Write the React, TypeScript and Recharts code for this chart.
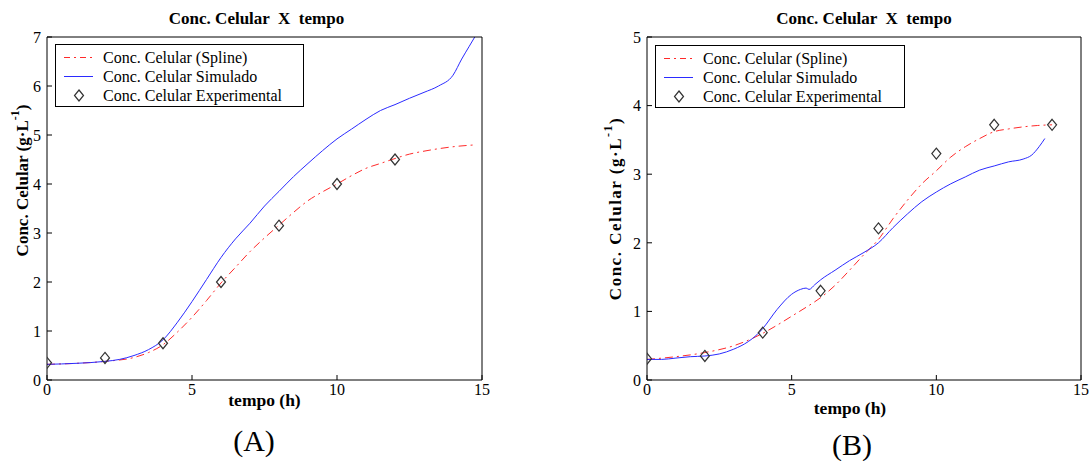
import { ComposedChart, Line, Scatter, XAxis, YAxis } from 'recharts'

const FONT = '"Liberation Serif", "Times New Roman", serif'

// eixos
const timeTicks = [0, 5, 10, 15]
const concTicksA = [0, 1, 2, 3, 4, 5, 6, 7]
const concTicksB = [0, 1, 2, 3, 4, 5]

// ensaio A
const expTimeA = [0, 2, 4, 6, 8, 10, 12]
const expConcA = [0.35, 0.45, 0.75, 2.0, 3.15, 4.0, 4.5]
const splineTimeA = [0, 1, 2, 3, 3.5, 4, 4.5, 5, 5.5, 6, 6.5, 7, 7.5, 8, 8.5, 9, 9.5, 10, 10.5, 11, 11.5, 12, 12.5, 13, 13.5, 14, 14.8]
const splineConcA = [0.32, 0.34, 0.38, 0.46, 0.56, 0.72, 0.98, 1.28, 1.62, 1.98, 2.3, 2.62, 2.9, 3.16, 3.42, 3.66, 3.84, 4.0, 4.17, 4.32, 4.42, 4.52, 4.61, 4.67, 4.72, 4.76, 4.8]
const simTimeA = [0, 1, 2, 2.5, 3, 3.5, 4, 4.5, 5, 5.5, 6, 6.5, 7, 7.5, 8, 8.5, 9, 9.5, 10, 10.5, 11, 11.5, 12, 12.5, 13, 13.5, 14, 14.3, 14.55, 14.75]
const simConcA = [0.32, 0.34, 0.38, 0.42, 0.5, 0.62, 0.82, 1.18, 1.6, 2.05, 2.5, 2.88, 3.2, 3.55, 3.85, 4.15, 4.42, 4.68, 4.92, 5.12, 5.32, 5.5, 5.62, 5.75, 5.87, 6.0, 6.22, 6.55, 6.8, 7.0]

// ensaio B
const expTimeB = [0, 2, 4, 6, 8, 10, 12, 14]
const expConcB = [0.31, 0.35, 0.69, 1.3, 2.21, 3.3, 3.72, 3.72]
const splineTimeB = [0, 1, 2, 3, 3.5, 4, 4.5, 5, 5.5, 6, 6.5, 7, 7.5, 8, 8.5, 9, 9.5, 10, 10.5, 11, 11.5, 12, 12.5, 13, 13.5, 14]
const splineConcB = [0.3, 0.34, 0.4, 0.5, 0.58, 0.68, 0.8, 0.93, 1.06, 1.2, 1.38, 1.6, 1.83, 2.05, 2.35, 2.62, 2.86, 3.05, 3.25, 3.4, 3.52, 3.62, 3.66, 3.69, 3.71, 3.72]
const simTimeB = [0, 0.5, 1, 1.5, 2, 2.5, 3, 3.5, 3.8, 4, 4.5, 5, 5.3, 5.5, 5.6, 5.8, 6, 6.5, 7, 7.5, 8, 8.5, 9, 9.5, 10, 10.5, 11, 11.5, 12, 12.5, 13, 13.3, 13.55, 13.75]
const simConcB = [0.3, 0.3, 0.32, 0.34, 0.35, 0.38, 0.45, 0.56, 0.66, 0.75, 1.03, 1.25, 1.32, 1.34, 1.32, 1.39, 1.46, 1.6, 1.74, 1.86, 2.0, 2.22, 2.42, 2.6, 2.74, 2.86, 2.96, 3.06, 3.12, 3.18, 3.22, 3.28, 3.4, 3.52]

const zip = (ts: number[], vs: number[]) => ts.map((t, i) => ({ t, v: vs[i] }))

const SPLINE_COLOR = '#ff2a2a'
const SIM_COLOR = '#2b2bff'
const SPLINE_DASH = '8 4 2 4'
const serif = { fontFamily: FONT }

function Diamond({ cx, cy }: { cx?: number; cy?: number }) {
  if (cx == null || cy == null) return null
  return (
    <path
      d={`M${cx},${cy - 5.5} L${cx + 4.5},${cy} L${cx},${cy + 5.5} L${cx - 4.5},${cy} Z`}
      fill="none"
      stroke="#333"
      strokeWidth={1.2}
    />
  )
}

// rótulos dos ticks em fonte serifada
function TimeTick({ x, y, payload }: any) {
  return (
    <text x={x} y={y} dy="0.71em" textAnchor="middle" fontSize={16} fill="#000" style={serif}>
      {payload.value}
    </text>
  )
}

function ConcTick({ x, y, payload }: any) {
  return (
    <text x={x} y={y} dy="0.36em" textAnchor="end" fontSize={16} fill="#000" style={serif}>
      {payload.value}
    </text>
  )
}

function LegendBox({ left, top, width }: { left: number; top: number; width: number }) {
  const rows = [
    { label: 'Conc. Celular (Spline)', kind: 'spline' },
    { label: 'Conc. Celular Simulado', kind: 'sim' },
    { label: 'Conc. Celular Experimental', kind: 'exp' },
  ]
  return (
    <div
      style={{
        position: 'absolute',
        left,
        top,
        width,
        height: 63,
        boxSizing: 'border-box',
        border: '1px solid #000',
        background: '#fff',
        fontFamily: FONT,
        fontSize: 16,
        paddingTop: 3,
      }}
    >
      {rows.map((r) => (
        <div key={r.label} style={{ display: 'flex', alignItems: 'center', height: 19 }}>
          <svg width={47} height={19} style={{ flexShrink: 0 }}>
            {r.kind === 'spline' && (
              <line x1={8} x2={37} y1={9.5} y2={9.5} stroke={SPLINE_COLOR} strokeDasharray="6 4 2 4" />
            )}
            {r.kind === 'sim' && <line x1={8} x2={37} y1={9.5} y2={9.5} stroke={SIM_COLOR} />}
            {r.kind === 'exp' && <Diamond cx={23} cy={9.5} />}
          </svg>
          <span style={{ whiteSpace: 'nowrap' }}>{r.label}</span>
        </div>
      ))}
    </div>
  )
}

interface PanelProps {
  letter: string
  left: number
  margin: { top: number; right: number; bottom: number; left: number }
  yMax: number
  yTicks: number[]
  spline: { t: number; v: number }[]
  sim: { t: number; v: number }[]
  exp: { t: number; v: number }[]
  titleDx: number
  xLabelDx: number
  xLabelY: number
  yLabelGap: number
  yLabelDy: number
  yLabelSize: number
  yLabelSpacing: number
  legendLeft: number
  legendTop: number
  legendWidth: number
  letterX: number
  letterY: number
}

function Panel(p: PanelProps) {
  const renderTitle = (props: any) => {
    const { x, width } = props.viewBox
    return (
      <text x={x + width / 2 + p.titleDx} y={24} textAnchor="middle" fontSize={17} fontWeight="bold" fill="#000" style={serif}>
        {'Conc. Celular \u00a0X\u00a0 tempo'}
      </text>
    )
  }

  const renderXTitle = (props: any) => {
    const { x, width } = props.viewBox
    return (
      <text
        x={x + width / 2 + p.xLabelDx}
        y={p.xLabelY}
        dy="0.35em"
        textAnchor="middle"
        fontSize={17.5}
        fontWeight="bold"
        fill="#000"
        style={serif}
      >
        tempo (h)
      </text>
    )
  }

  const renderYTitle = (props: any) => {
    const { x, y, height } = props.viewBox
    const cx = x - p.yLabelGap
    const cy = y + height / 2 + p.yLabelDy
    return (
      <text
        x={cx}
        y={cy}
        transform={`rotate(-90 ${cx} ${cy})`}
        textAnchor="middle"
        dominantBaseline="central"
        style={serif}
        fontWeight="bold"
        fontSize={p.yLabelSize}
        letterSpacing={p.yLabelSpacing}
        fill="#000"
      >
        Conc. Celular (g·L
        <tspan dy={-7} fontSize={p.yLabelSize * 0.7}>
          -1
        </tspan>
        <tspan dy={7}>)</tspan>
      </text>
    )
  }

  return (
    <div style={{ position: 'absolute', left: p.left, top: 0, width: 546, height: 461, fontFamily: FONT }}>
      <ComposedChart width={546} height={461} margin={p.margin}>
        <XAxis
          dataKey="t"
          type="number"
          domain={[0, 15]}
          ticks={timeTicks}
          allowDataOverflow
          height={1}
          tickSize={-5}
          tickMargin={9}
          tick={<TimeTick />}
          stroke="#000"
          label={renderXTitle}
        />
        <XAxis
          xAxisId="top"
          orientation="top"
          type="number"
          domain={[0, 15]}
          ticks={timeTicks}
          allowDataOverflow
          height={1}
          tickSize={-5}
          tick={false}
          stroke="#000"
          label={renderTitle}
        />
        <YAxis
          type="number"
          domain={[0, p.yMax]}
          ticks={p.yTicks}
          allowDataOverflow
          width={1}
          tickSize={-5}
          tickMargin={11}
          tick={<ConcTick />}
          stroke="#000"
          label={renderYTitle}
        />
        <YAxis
          yAxisId="right"
          orientation="right"
          type="number"
          domain={[0, p.yMax]}
          ticks={p.yTicks}
          allowDataOverflow
          width={1}
          tickSize={-5}
          tick={false}
          stroke="#000"
        />
        <Line
          data={p.spline}
          dataKey="v"
          type="monotone"
          stroke={SPLINE_COLOR}
          strokeWidth={1}
          strokeDasharray={SPLINE_DASH}
          dot={false}
          activeDot={false}
          isAnimationActive={false}
        />
        <Line
          data={p.sim}
          dataKey="v"
          type="monotone"
          stroke={SIM_COLOR}
          strokeWidth={1}
          dot={false}
          activeDot={false}
          isAnimationActive={false}
        />
        <Scatter data={p.exp} dataKey="v" shape={<Diamond />} isAnimationActive={false} />
      </ComposedChart>
      <LegendBox left={p.legendLeft} top={p.legendTop} width={p.legendWidth} />
      <div
        style={{
          position: 'absolute',
          left: p.letterX - 40,
          width: 80,
          top: p.letterY - 17,
          textAlign: 'center',
          fontSize: 30,
          lineHeight: '34px',
        }}
      >
        ({p.letter})
      </div>
    </div>
  )
}

export default function App() {
  return (
    <div
      style={{
        position: 'fixed',
        left: 0,
        top: 0,
        width: 1092,
        height: 461,
        background: '#fff',
        overflow: 'hidden',
        fontFamily: FONT,
      }}
    >
      <Panel
        letter="A"
        left={0}
        margin={{ top: 36, right: 63, bottom: 80, left: 46 }}
        yMax={7}
        yTicks={concTicksA}
        spline={zip(splineTimeA, splineConcA)}
        sim={zip(simTimeA, simConcA)}
        exp={zip(expTimeA, expConcA)}
        titleDx={-8}
        xLabelDx={0}
        xLabelY={400}
        yLabelGap={24}
        yLabelDy={-28}
        yLabelSize={17}
        yLabelSpacing={0}
        legendLeft={55}
        legendTop={44}
        legendWidth={249}
        letterX={254}
        letterY={441}
      />
      <Panel
        letter="B"
        left={546}
        margin={{ top: 36, right: 10, bottom: 80, left: 100 }}
        yMax={5}
        yTicks={concTicksB}
        spline={zip(splineTimeB, splineConcB)}
        sim={zip(simTimeB, simConcB)}
        exp={zip(expTimeB, expConcB)}
        titleDx={0}
        xLabelDx={-14}
        xLabelY={408}
        yLabelGap={31}
        yLabelDy={0}
        yLabelSize={17}
        yLabelSpacing={1.5}
        legendLeft={109}
        legendTop={45}
        legendWidth={250}
        letterX={306}
        letterY={445}
      />
    </div>
  )
}
